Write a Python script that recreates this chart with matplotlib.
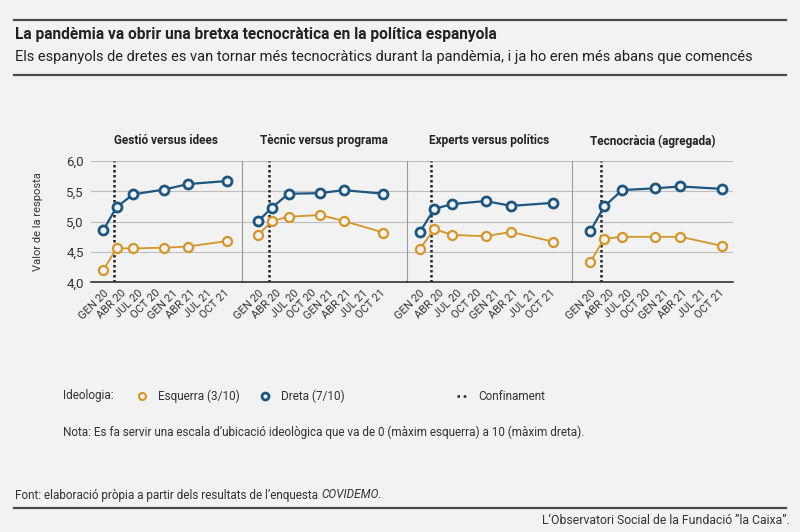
import matplotlib.pyplot as plt
import numpy as np
from matplotlib.lines import Line2D

plt.rcParams['font.family'] = ['Roboto', 'DejaVu Sans']

# months since Jan 2020 for each survey wave
waves = [0, 2.3, 5.2, 10.6, 14.7, 21.5]
confinament = 1.8
tick_pos = [0, 3, 6, 9, 12, 15, 18, 21]
tick_labels = ['GEN 20', 'ABR 20', 'JUL 20', 'OCT 20', 'GEN 21', 'ABR 21', 'JUL 21', 'OCT 21']

panels = ['Gestió versus idees', 'Tècnic versus programa',
          'Experts versus polítics', 'Tecnocràcia (agregada)']
esquerra = [
    [4.20, 4.56, 4.56, 4.57, 4.59, 4.68],
    [4.78, 5.01, 5.08, 5.11, 5.01, 4.82],
    [4.55, 4.88, 4.78, 4.76, 4.83, 4.67],
    [4.33, 4.72, 4.75, 4.75, 4.75, 4.60],
]
dreta = [
    [4.86, 5.24, 5.45, 5.53, 5.62, 5.67],
    [5.01, 5.23, 5.46, 5.47, 5.52, 5.46],
    [4.83, 5.21, 5.29, 5.34, 5.26, 5.31],
    [4.84, 5.25, 5.52, 5.55, 5.58, 5.54],
]

BG = '#f2f2f2'
C_ESQ = '#d4952b'
C_DRE = '#1d5680'
TXT = '#333333'

W, H = 800, 532
fig = plt.figure(figsize=(8, 5.32), dpi=100, facecolor=BG)

# panel pixel boxes: left, right, and x-limits in months
boxes = [(91, 241.5, (-2.14, 24.0)),
         (241.5, 406.7, (-2.9, 25.5)),
         (407, 571.7, (-2.1, 24.5)),
         (571.7, 733.3, (-3.0, 23.3))]
y_top, y_bot = 161, 282.3

for i, (l, r, xl) in enumerate(boxes):
    ax = fig.add_axes([l / W, 1 - y_bot / H, (r - l) / W, (y_bot - y_top) / H])
    ax.set_facecolor(BG)
    ax.set_xlim(*xl)
    ax.set_ylim(4, 6)
    ax.set_yticks([4.0, 4.5, 5.0, 5.5, 6.0])
    ax.grid(axis='y', color='#bdbdbd', linewidth=0.8)
    ax.set_axisbelow(True)
    for s in ['top', 'right']:
        ax.spines[s].set_visible(False)
    ax.spines['bottom'].set_color('#333333')
    ax.spines['bottom'].set_linewidth(1.2)
    if i == 0:
        ax.spines['left'].set_visible(False)
        ax.set_yticklabels(['4,0', '4,5', '5,0', '5,5', '6,0'], fontsize=9.5, color=TXT)
        ax.tick_params(axis='y', length=0, pad=5)
        ax.set_ylabel('Valor de la resposta', fontsize=8, color=TXT, labelpad=17)
    else:
        ax.spines['left'].set_color('#999999')
        ax.spines['left'].set_linewidth(0.8)
        ax.tick_params(axis='y', length=0, labelleft=False)
    ax.set_xticks(tick_pos)
    ax.set_xticklabels(tick_labels, rotation=45, ha='right', rotation_mode='anchor',
                       fontsize=8, color=TXT)
    ax.tick_params(axis='x', length=0, pad=4)
    ax.axvline(confinament, color='#222222', linestyle=(0, (1, 1)), linewidth=1.8, zorder=2)
    ax.plot(waves, esquerra[i], '-o', color=C_ESQ, linewidth=1.3, markersize=6.5,
            markerfacecolor=BG, markeredgewidth=1.6, zorder=3)
    ax.plot(waves, dreta[i], '-o', color=C_DRE, linewidth=1.6, markersize=6.5,
            markerfacecolor=BG, markeredgewidth=2.0, zorder=4)
    ax.text((xl[0] + xl[1]) / 2, 6.33, panels[i], ha='center', va='center',
            fontsize=8.5, fontweight='bold', color='#222222')

# header and footer lines
for y in [20, 75, 508]:
    fig.add_artist(Line2D([14 / W, 786 / W], [1 - y / H, 1 - y / H], color='#4a4a4a', linewidth=1.6))

fig.text(15 / W, 1 - 34 / H, 'La pandèmia va obrir una bretxa tecnocràtica en la política espanyola',
         fontsize=11.2, fontweight='bold', color='#222222', va='center')
fig.text(15 / W, 1 - 57 / H, 'Els espanyols de dretes es van tornar més tecnocràtics durant la pandèmia, '
         'i ja ho eren més abans que comencés', fontsize=10.5, color='#222222', va='center')

# legend row
ly = 1 - 396 / H
fs = 8.5
fig.text(63 / W, ly, 'Ideologia:', fontsize=fs, color=TXT, va='center')
fig.add_artist(Line2D([142 / W], [ly], marker='o', markersize=5, markerfacecolor=BG,
                      markeredgecolor=C_ESQ, markeredgewidth=1.5, linestyle=''))
fig.text(158 / W, ly, 'Esquerra (3/10)', fontsize=fs, color=TXT, va='center')
fig.add_artist(Line2D([265 / W], [ly], marker='o', markersize=5, markerfacecolor=BG,
                      markeredgecolor=C_DRE, markeredgewidth=2.0, linestyle=''))
fig.text(281 / W, ly, 'Dreta (7/10)', fontsize=fs, color=TXT, va='center')
fig.add_artist(Line2D([457 / W, 468 / W], [ly, ly], color='#222222', linestyle=(0, (1, 1.5)),
                      linewidth=1.8))
fig.text(478 / W, ly, 'Confinament', fontsize=fs, color=TXT, va='center')

fig.text(63 / W, 1 - 432 / H, "Nota: Es fa servir una escala d’ubicació ideològica que va de 0 (màxim esquerra) "
         "a 10 (màxim dreta).", fontsize=fs, color=TXT, va='center')

fy = 1 - 495 / H
t = fig.text(15 / W, fy, 'Font: elaboració pròpia a partir dels resultats de l’enquesta ',
             fontsize=fs, color=TXT, va='center')
fig.canvas.draw()
bb = t.get_window_extent()
t2 = fig.text(bb.x1 / W, fy, 'COVIDEMO', fontsize=fs, color=TXT, va='center', style='italic')
fig.canvas.draw()
bb2 = t2.get_window_extent()
fig.text((bb2.x1 - 1) / W, fy, '.', fontsize=fs, color=TXT, va='center')

fig.text(790 / W, 1 - 520 / H, 'L’Observatori Social de la Fundació ”la Caixa”.',
         fontsize=8.8, color=TXT, va='center', ha='right')

fig.savefig('out.png', dpi=100, facecolor=BG)
